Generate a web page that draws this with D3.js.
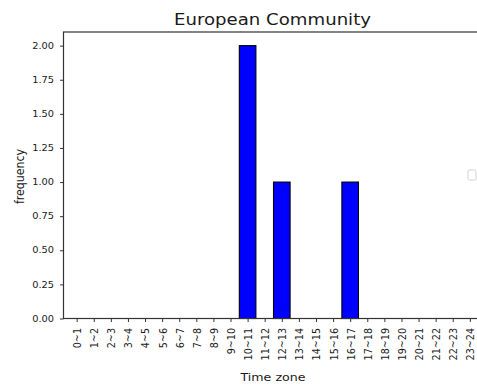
<!DOCTYPE html>
<html>
<head>
<meta charset="utf-8">
<script src="https://cdn.jsdelivr.net/npm/d3@7"></script>
<style>
  html, body { margin: 0; padding: 0; background: #fff; }
  svg { display: block; }
  text { font-family: "DejaVu Sans", sans-serif; fill: #1a1a1a; }
</style>
</head>
<body>
<svg id="chart" width="477" height="385"></svg>
<script>
// Time-zone histogram for one community
const categories = ["0~1","1~2","2~3","3~4","4~5","5~6","6~7","7~8","8~9","9~10",
  "10~11","11~12","12~13","13~14","14~15","15~16","16~17","17~18","18~19","19~20",
  "20~21","21~22","22~23","23~24"];
const frequency = [0,0,0,0,0,0,0,0,0,0, 2,0,1,0,0,0,1,0,0,0, 0,0,0,0];
const yTicks = [0, 0.25, 0.5, 0.75, 1.0, 1.25, 1.5, 1.75, 2.0];
const titleText = "European Community";
const xLabel = "Time zone";
const yLabel = "frequency";

const svg = d3.select("#chart");
const stretch = 1.17;           // horizontal text stretch
const plot = { left: 63.5, right: 483, top: 32, bottom: 318.5 };

const x = d3.scaleLinear().domain([-0.77, categories.length - 1 + 0.77]).range([plot.left, plot.right]);
const y = d3.scaleLinear().domain([0, 2.1]).range([plot.bottom, plot.top]);
const barWidth = 0.97;

// bars
svg.append("g").selectAll("rect")
  .data(frequency.map((v, i) => ({ v, i })).filter(d => d.v > 0))
  .join("rect")
  .attr("x", d => x(d.i - barWidth / 2))
  .attr("width", d => x(d.i + barWidth / 2) - x(d.i - barWidth / 2))
  .attr("y", d => y(d.v))
  .attr("height", d => y(0) - y(d.v))
  .attr("fill", "#0000ff")
  .attr("stroke", "#000")
  .attr("stroke-width", 1.1);

// frame
svg.append("rect")
  .attr("x", plot.left).attr("y", plot.top)
  .attr("width", plot.right - plot.left).attr("height", plot.bottom - plot.top)
  .attr("fill", "none").attr("stroke", "#333").attr("stroke-width", 1.2);

// y axis
const gy = svg.append("g")
  .attr("transform", `translate(${plot.left},0)`)
  .call(d3.axisLeft(y).tickValues(yTicks).tickFormat(d3.format(".2f"))
        .tickSize(3.5).tickSizeOuter(0).tickPadding(4.6));
gy.select(".domain").remove();
gy.selectAll(".tick line").attr("stroke", "#333");
gy.selectAll(".tick text")
  .attr("font-size", 8.4)
  .attr("font-family", "DejaVu Sans")
  .attr("transform", `scale(${stretch},1)`);

// x axis
const gx = svg.append("g")
  .attr("transform", `translate(0,${plot.bottom})`)
  .call(d3.axisBottom(x).tickValues(d3.range(categories.length))
        .tickFormat(i => categories[i]).tickSize(3.5).tickSizeOuter(0));
gx.select(".domain").remove();
gx.selectAll(".tick line").attr("stroke", "#333");
gx.selectAll(".tick text")
  .attr("font-size", 9.6)
  .attr("font-family", "DejaVu Sans")
  .attr("y", 0).attr("x", -9.5).attr("dy", "0.35em")
  .attr("text-anchor", "end")
  .attr("transform", `scale(${stretch},1) rotate(-90)`);

// title
svg.append("text")
  .attr("transform", `translate(272.5,24.5) scale(${stretch},1)`)
  .attr("text-anchor", "middle")
  .attr("font-size", 15.5)
  .text(titleText);

// axis labels
svg.append("text")
  .attr("transform", `translate(273,381) scale(${stretch},1)`)
  .attr("text-anchor", "middle")
  .attr("font-size", 10.8)
  .text(xLabel);

svg.append("text")
  .attr("transform", `translate(23.5,176.5) scale(${stretch},1) rotate(-90)`)
  .attr("text-anchor", "middle")
  .attr("font-size", 11)
  .text(yLabel);

// empty legend frame
svg.append("rect")
  .attr("x", 468).attr("y", 170)
  .attr("width", 8).attr("height", 10)
  .attr("rx", 1.5)
  .attr("fill", "#fff")
  .attr("stroke", "#d0d0d0")
  .attr("stroke-width", 1);
</script>
</body>
</html>
